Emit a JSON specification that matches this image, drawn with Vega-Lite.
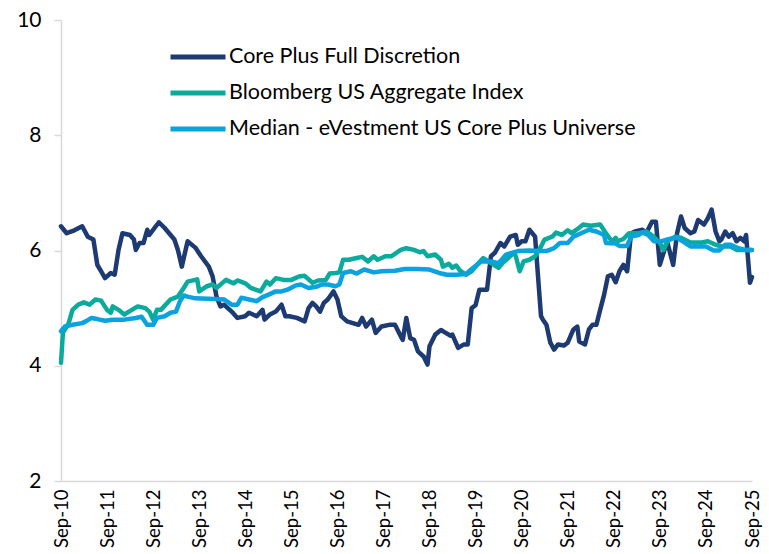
{
  "$schema": "https://vega.github.io/schema/vega-lite/v6.json",
  "autosize": {"type": "none"},
  "width": 691,
  "height": 461,
  "padding": {"left": 61, "top": 20, "right": 17, "bottom": 73},
  "background": "white",
  "config": {"view": {"stroke": null}, "font": "Lato"},
  "datasets": {
    "core": [
      ["2010-09-01",6.42],["2010-10-16",6.30],["2010-12-16",6.35],["2011-02-16",6.42],["2011-04-01",6.24],["2011-05-16",6.19],["2011-06-16",5.75],["2011-07-16",5.64],["2011-08-16",5.52],["2011-10-01",5.61],["2011-11-01",5.58],["2011-12-01",6.01],["2012-01-01",6.30],["2012-03-01",6.27],["2012-04-01",6.19],["2012-04-16",6.01],["2012-05-16",6.13],["2012-06-16",6.13],["2012-07-16",6.36],["2012-08-01",6.27],["2012-10-16",6.49],["2012-12-01",6.39],["2013-02-16",6.19],["2013-03-16",6.01],["2013-04-16",5.72],["2013-05-16",6.01],["2013-06-01",6.16],["2013-08-01",6.05],["2013-09-16",5.90],["2013-11-16",5.72],["2013-12-16",5.55],["2014-01-16",5.20],["2014-02-16",5.03],["2014-03-16",5.06],["2014-05-16",4.94],["2014-07-01",4.83],["2014-09-01",4.86],["2014-10-01",4.92],["2014-12-01",4.86],["2015-01-16",4.97],["2015-02-01",4.80],["2015-03-16",4.89],["2015-05-01",4.94],["2015-06-16",5.06],["2015-07-16",4.86],["2015-08-16",4.86],["2015-10-16",4.83],["2015-12-16",4.77],["2016-01-16",5.00],["2016-02-16",5.09],["2016-03-16",5.03],["2016-04-16",4.94],["2016-05-16",5.09],["2016-06-16",5.15],["2016-08-01",5.29],["2016-09-01",5.15],["2016-10-01",4.86],["2016-11-16",4.77],["2017-01-01",4.74],["2017-02-16",4.71],["2017-03-16",4.83],["2017-04-16",4.68],["2017-06-01",4.80],["2017-07-01",4.57],["2017-08-16",4.68],["2017-10-16",4.71],["2017-12-01",4.71],["2018-01-16",4.51],["2018-02-01",4.45],["2018-03-01",4.83],["2018-04-01",4.48],["2018-05-01",4.45],["2018-06-01",4.25],["2018-07-16",4.16],["2018-08-16",4.02],["2018-09-01",4.34],["2018-10-16",4.54],["2018-12-01",4.62],["2019-01-01",4.58],["2019-02-16",4.52],["2019-03-01",4.54],["2019-04-16",4.31],["2019-06-01",4.37],["2019-07-01",4.37],["2019-08-01",5.00],["2019-09-01",5.05],["2019-10-01",5.32],["2019-12-01",5.32],["2020-01-01",5.90],["2020-02-01",5.96],["2020-03-16",6.13],["2020-04-16",6.07],["2020-06-01",6.24],["2020-07-16",6.27],["2020-08-01",6.10],["2020-09-01",6.16],["2020-10-01",6.16],["2020-11-01",6.36],["2020-12-16",6.24],["2021-02-01",4.86],["2021-02-16",4.80],["2021-03-16",4.71],["2021-04-16",4.40],["2021-05-16",4.28],["2021-06-16",4.37],["2021-08-01",4.35],["2021-09-01",4.40],["2021-10-16",4.63],["2021-11-16",4.68],["2021-12-01",4.42],["2022-01-16",4.37],["2022-02-16",4.63],["2022-03-16",4.71],["2022-04-16",4.71],["2022-05-16",4.97],["2022-06-16",5.23],["2022-07-16",5.55],["2022-08-16",5.58],["2022-09-16",5.45],["2022-10-16",5.64],["2022-11-16",5.75],["2022-12-16",5.64],["2023-01-16",6.30],["2023-02-16",6.33],["2023-04-16",6.36],["2023-05-16",6.30],["2023-07-01",6.50],["2023-08-01",6.50],["2023-09-01",5.75],["2023-10-16",6.07],["2023-11-01",6.13],["2023-12-16",5.75],["2024-01-16",6.30],["2024-02-16",6.59],["2024-03-16",6.39],["2024-05-01",6.30],["2024-06-01",6.33],["2024-07-01",6.53],["2024-08-16",6.45],["2024-09-16",6.56],["2024-10-16",6.71],["2024-11-16",6.33],["2024-12-16",6.16],["2025-01-01",6.19],["2025-02-01",6.33],["2025-03-01",6.24],["2025-04-01",6.30],["2025-05-01",6.16],["2025-06-01",6.22],["2025-07-01",6.16],["2025-07-16",6.27],["2025-08-16",5.44],["2025-09-01",5.54]
    ],
    "agg": [
      ["2010-09-01",4.05],["2010-09-16",4.57],["2010-11-01",4.74],["2010-12-01",4.97],["2011-01-16",5.06],["2011-03-01",5.10],["2011-04-16",5.06],["2011-06-01",5.15],["2011-07-16",5.13],["2011-09-01",4.97],["2011-10-01",4.92],["2011-10-16",5.03],["2011-12-01",4.97],["2012-01-16",4.89],["2012-03-16",4.97],["2012-05-01",5.03],["2012-07-01",5.00],["2012-08-01",4.94],["2012-09-01",4.80],["2012-10-01",4.97],["2012-11-01",4.97],["2013-01-16",5.15],["2013-03-16",5.20],["2013-05-01",5.35],["2013-06-01",5.46],["2013-08-16",5.50],["2013-09-01",5.29],["2013-11-01",5.38],["2013-12-16",5.41],["2014-01-16",5.35],["2014-04-01",5.49],["2014-06-01",5.43],["2014-07-01",5.48],["2014-09-01",5.43],["2014-10-16",5.35],["2015-01-01",5.29],["2015-02-16",5.46],["2015-03-16",5.41],["2015-05-01",5.52],["2015-07-01",5.49],["2015-09-01",5.49],["2015-11-01",5.55],["2015-12-16",5.56],["2016-02-16",5.44],["2016-04-01",5.48],["2016-06-01",5.49],["2016-07-01",5.60],["2016-08-16",5.61],["2016-09-16",5.62],["2016-10-16",5.84],["2016-12-01",5.84],["2017-02-01",5.87],["2017-03-16",5.89],["2017-05-01",5.81],["2017-06-16",5.90],["2017-07-16",5.84],["2017-09-16",5.90],["2017-11-01",5.90],["2018-01-16",6.01],["2018-03-01",6.04],["2018-05-01",6.01],["2018-06-16",5.97],["2018-07-16",5.99],["2018-08-16",5.90],["2018-10-16",5.93],["2018-12-01",5.84],["2018-12-16",5.72],["2019-02-01",5.77],["2019-03-01",5.70],["2019-04-01",5.74],["2019-05-01",5.65],["2019-06-16",5.58],["2019-08-01",5.64],["2019-09-16",5.76],["2019-11-01",5.87],["2020-01-01",5.78],["2020-03-01",5.70],["2020-04-01",5.78],["2020-05-16",5.87],["2020-07-01",5.96],["2020-07-16",5.90],["2020-08-16",5.64],["2020-09-16",5.81],["2020-11-01",5.84],["2020-12-16",5.90],["2021-02-01",6.07],["2021-03-01",6.19],["2021-05-01",6.24],["2021-06-01",6.31],["2021-07-16",6.27],["2021-09-01",6.35],["2021-10-01",6.30],["2021-11-16",6.37],["2022-01-01",6.45],["2022-03-01",6.43],["2022-05-16",6.45],["2022-07-01",6.30],["2022-08-16",6.16],["2022-09-16",6.22],["2022-10-01",6.16],["2022-11-16",6.20],["2023-01-01",6.30],["2023-03-16",6.30],["2023-05-16",6.33],["2023-07-16",6.24],["2023-09-01",6.13],["2023-10-01",6.01],["2023-11-01",6.16],["2024-01-01",6.24],["2024-02-16",6.22],["2024-05-01",6.14],["2024-08-01",6.14],["2024-09-16",6.16],["2024-11-16",6.10],["2025-01-01",6.07],["2025-03-16",6.07],["2025-05-01",6.01],["2025-07-01",6.01],["2025-09-01",6.01]
    ],
    "median": [
      ["2010-09-01",4.60],["2010-10-01",4.68],["2010-12-01",4.71],["2011-02-16",4.74],["2011-03-16",4.77],["2011-05-01",4.83],["2011-06-16",4.81],["2011-08-16",4.78],["2011-10-16",4.80],["2012-01-16",4.80],["2012-04-16",4.83],["2012-06-01",4.85],["2012-07-16",4.71],["2012-09-01",4.71],["2012-10-01",4.83],["2012-12-01",4.86],["2013-01-16",4.92],["2013-03-01",4.94],["2013-04-01",5.12],["2013-05-01",5.22],["2013-06-01",5.20],["2013-08-01",5.17],["2014-01-01",5.16],["2014-03-16",5.15],["2014-05-16",5.06],["2014-07-01",5.06],["2014-08-01",5.18],["2014-10-01",5.15],["2014-12-01",5.12],["2015-01-16",5.19],["2015-03-01",5.23],["2015-05-01",5.29],["2015-06-16",5.29],["2015-08-01",5.32],["2015-10-01",5.39],["2015-11-16",5.41],["2016-01-16",5.35],["2016-03-16",5.37],["2016-05-01",5.41],["2016-06-16",5.41],["2016-08-16",5.38],["2016-09-16",5.41],["2016-10-16",5.61],["2016-12-16",5.64],["2017-02-01",5.60],["2017-04-01",5.67],["2017-06-16",5.62],["2017-08-16",5.64],["2017-12-01",5.65],["2018-02-16",5.68],["2018-06-01",5.68],["2018-09-01",5.67],["2018-11-16",5.61],["2019-01-16",5.58],["2019-04-01",5.58],["2019-06-16",5.59],["2019-08-01",5.68],["2019-10-16",5.81],["2020-01-01",5.81],["2020-03-01",5.78],["2020-05-01",5.93],["2020-08-01",5.99],["2020-11-01",6.00],["2021-01-16",5.99],["2021-03-16",5.99],["2021-05-16",6.04],["2021-07-01",6.13],["2021-09-01",6.13],["2021-10-16",6.24],["2021-12-16",6.30],["2022-02-16",6.36],["2022-04-16",6.33],["2022-06-16",6.27],["2022-07-01",6.13],["2022-09-16",6.12],["2022-10-16",6.08],["2022-12-16",6.08],["2023-01-16",6.24],["2023-03-16",6.27],["2023-04-16",6.31],["2023-06-01",6.27],["2023-07-16",6.16],["2023-09-16",6.16],["2023-11-16",6.20],["2024-01-16",6.22],["2024-03-01",6.16],["2024-05-01",6.07],["2024-07-01",6.07],["2024-09-01",6.07],["2024-11-01",6.00],["2024-12-16",6.00],["2025-02-01",6.10],["2025-03-16",6.10],["2025-05-16",6.04],["2025-07-16",6.01],["2025-09-01",6.01]
    ]
  },
  "layer": [
    {
      "data": {"name": "core"},
      "transform": [{"calculate": "'Core Plus Full Discretion'", "as": "series"}],
      "mark": {"type": "line", "strokeWidth": 4.5, "strokeJoin": "round", "strokeCap": "round"},
      "encoding": {
        "x": {"field": "0", "type": "temporal"},
        "y": {"field": "1", "type": "quantitative"},
        "color": {"field": "series", "type": "nominal"}
      }
    },
    {
      "data": {"name": "agg"},
      "transform": [{"calculate": "'Bloomberg US Aggregate Index'", "as": "series"}],
      "mark": {"type": "line", "strokeWidth": 4.5, "strokeJoin": "round", "strokeCap": "round"},
      "encoding": {
        "x": {"field": "0", "type": "temporal"},
        "y": {"field": "1", "type": "quantitative"},
        "color": {"field": "series", "type": "nominal"}
      }
    },
    {
      "data": {"name": "median"},
      "transform": [{"calculate": "'Median - eVestment US Core Plus Universe'", "as": "series"}],
      "mark": {"type": "line", "strokeWidth": 4.5, "strokeJoin": "round", "strokeCap": "round"},
      "encoding": {
        "x": {
          "field": "0", "type": "temporal",
          "scale": {"type": "utc", "domain": [{"year": 2010, "month": "sep", "date": 1, "utc": true}, {"year": 2025, "month": "sep", "date": 1, "utc": true}]},
          "axis": {
            "title": null,
            "values": [
              {"year": 2010, "month": "sep", "date": 1, "utc": true},
              {"year": 2011, "month": "sep", "date": 1, "utc": true},
              {"year": 2012, "month": "sep", "date": 1, "utc": true},
              {"year": 2013, "month": "sep", "date": 1, "utc": true},
              {"year": 2014, "month": "sep", "date": 1, "utc": true},
              {"year": 2015, "month": "sep", "date": 1, "utc": true},
              {"year": 2016, "month": "sep", "date": 1, "utc": true},
              {"year": 2017, "month": "sep", "date": 1, "utc": true},
              {"year": 2018, "month": "sep", "date": 1, "utc": true},
              {"year": 2019, "month": "sep", "date": 1, "utc": true},
              {"year": 2020, "month": "sep", "date": 1, "utc": true},
              {"year": 2021, "month": "sep", "date": 1, "utc": true},
              {"year": 2022, "month": "sep", "date": 1, "utc": true},
              {"year": 2023, "month": "sep", "date": 1, "utc": true},
              {"year": 2024, "month": "sep", "date": 1, "utc": true},
              {"year": 2025, "month": "sep", "date": 1, "utc": true}
            ],
            "labelExpr": "utcFormat(datum.value, '%b-%y')",
            "labelAngle": -90,
            "labelFontSize": 18.5,
            "labelColor": "#000000",
            "labelPadding": 8,
            "ticks": false,
            "grid": false,
            "domainColor": "#d9d9d9",
            "domainWidth": 1.5,
            "labelOverlap": false,
            "labelFlush": false
          }
        },
        "y": {
          "field": "1", "type": "quantitative",
          "scale": {"domain": [2, 10], "nice": false, "zero": false},
          "axis": {
            "title": null,
            "values": [2, 4, 6, 8, 10],
            "format": "d",
            "labelFontSize": 21,
            "labelColor": "#000000",
            "labelPadding": 13,
            "tickSize": 7,
            "tickColor": "#d9d9d9",
            "tickWidth": 1.5,
            "domainColor": "#d9d9d9",
            "domainWidth": 1.5,
            "grid": false
          }
        },
        "color": {
          "field": "series", "type": "nominal",
          "scale": {
            "domain": ["Core Plus Full Discretion", "Bloomberg US Aggregate Index", "Median - eVestment US Core Plus Universe"],
            "range": ["#1d3a72", "#0aab9c", "#0aa3e0"]
          },
          "legend": {
            "title": null,
            "orient": "none",
            "legendX": 107,
            "legendY": 19,
            "symbolType": "stroke",
            "symbolSize": 3025,
            "symbolStrokeWidth": 5,
            "labelFontSize": 21.5,
            "labelColor": "#000000",
            "labelOffset": 1,
            "rowPadding": 0,
            "clipHeight": 36,
            "labelLimit": 600
          }
        }
      }
    }
  ]
}
